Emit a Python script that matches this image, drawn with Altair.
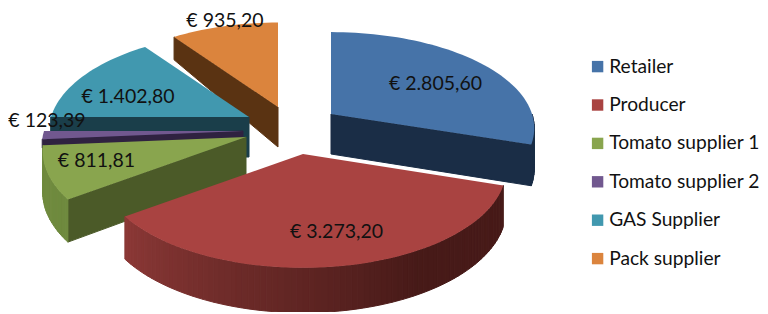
import math
import altair as alt

names = ["Retailer", "Producer", "Tomato supplier 1", "Tomato supplier 2", "GAS Supplier", "Pack supplier"]
values = [2805.60, 3273.20, 811.81, 123.39, 1402.80, 935.20]
labels = ["€ 2.805,60", "€ 3.273,20", "€ 811,81", "€ 123,39", "€ 1.402,80", "€ 935,20"]
top_colors = ["#4673A8", "#A94341", "#89A54E", "#71588F", "#4198AF", "#DB843D"]
cut_colors = ["#1A2D46", "#471A18", "#4B5A28", "#2F2240", "#1A3E4A", "#5A3312"]
rim_colors = ["#1A2D46", "#8B3836", "#6F8A3E", "#5A4672", "#1A3E4A", "#5A3312"]
rim_dark = ["#1A2D46", "#471A18", "#6F8A3E", "#5A4672", "#1A3E4A", "#5A3312"]

# geometry of the exploded perspective pie, in chart pixels
apex_x = [323, 295, 238, 235, 241, 270]
apex_y = [106, 146, 129, 123, 109, 99]
radius_x = [201, 201, 201, 199, 198, 198]
radius_y = [94, 97, 97, 97, 97, 97]
K = 0.148
DEPTH = 40
depth_scale = [1, 1, 1, 0.22, 1, 1]
has_rim = [True, True, True, False, True, True]
# which cut edge of the slice faces the viewer
cut_start = [False, False, True, True, True, True]
cut_end = [True, False, False, False, False, False]
label_x = [427.5, 328.5, 88.5, 39, 120, 217]
label_y = [76, 224, 153, 113, 89, 12.5]
W, H = 752, 304

total = sum(values)
starts, acc = [], 0.0
for v in values:
    starts.append(acc / total * 360)
    acc += v


def pt(i, deg, down=False):
    a = math.radians(deg)
    s = 1 / (1 + K * math.cos(a))
    x = apex_x[i] + radius_x[i] * math.sin(a) * s
    y = apex_y[i] - radius_y[i] * math.cos(a) * s
    if down:
        y += (DEPTH + (160 if s < 1 else 28) * (s - 1)) * depth_scale[i]
    return [x, y]


def feature(ring, **props):
    ring = [[round(p[0], 2), round(p[1], 2)] for p in ring]
    ring.append(ring[0])
    return {"type": "Feature", "properties": props, "geometry": {"type": "Polygon", "coordinates": [ring]}}


def mix(c1, c2, t):
    a = [int(c1[j:j + 2], 16) for j in (1, 3, 5)]
    b = [int(c2[j:j + 2], 16) for j in (1, 3, 5)]
    return "#" + "".join(f"{round(p + (q - p) * t):02x}" for p, q in zip(a, b))


def steps(a0, a1, step=2.0):
    n = max(1, int(abs(a1 - a0) / step))
    return [a0 + (a1 - a0) * j / n for j in range(n + 1)]


walls, tops = [], []
for i in [5, 4, 3, 2, 0, 1]:
    a0, a1 = starts[i], starts[i] + values[i] / total * 360
    apex = [apex_x[i], apex_y[i]]
    apex_low = [apex_x[i], apex_y[i] + DEPTH * depth_scale[i]]
    if cut_start[i]:
        walls.append(feature([apex, pt(i, a0), pt(i, a0, True), apex_low], fill=cut_colors[i]))
    if cut_end[i]:
        walls.append(feature([apex, pt(i, a1), pt(i, a1, True), apex_low], fill=cut_colors[i]))
    lo, hi = max(a0, 90), min(a1, 270)
    if hi > lo and has_rim[i]:
        seq = steps(hi, lo, 1.5)
        for j in range(len(seq) - 1):
            t = j / max(1, len(seq) - 2)
            col = mix(rim_colors[i], rim_dark[i], min(1, t * 1.5))
            walls.append(feature([pt(i, seq[j]), pt(i, seq[j + 1]), pt(i, seq[j + 1], True), pt(i, seq[j], True)], fill=col))
    arc = [pt(i, a) for a in steps(a0, a1)]
    tops.append(feature([apex] + arc, name=names[i]))

prj = dict(type="identity", scale=1, translate=[0, 0])

wall_layer = alt.Chart(alt.Data(values=walls)).mark_geoshape(strokeWidth=1).encode(
    fill=alt.Fill("properties.fill:N", scale=None, legend=None),
    stroke=alt.Stroke("properties.fill:N", scale=None, legend=None),
).project(**prj)

top_layer = alt.Chart(alt.Data(values=tops)).mark_geoshape(strokeWidth=0).encode(
    color=alt.Color(
        "properties.name:N",
        scale=alt.Scale(domain=names, range=top_colors),
        legend=alt.Legend(
            title=None, orient="none", legendX=580, legendY=49, symbolType="square", symbolSize=130,
            labelFont="Lato", labelFontSize=19.2, labelColor="#111111", rowPadding=18.4, labelOffset=2,
            labelLimit=220, symbolStrokeWidth=0,
        ),
    ),
).project(**prj)

text_layer = alt.Chart(alt.Data(values=[
    {"t": l, "x": x, "y": y} for l, x, y in zip(labels, label_x, label_y)
])).mark_text(font="Lato", fontSize=19.5, color="#111111").encode(
    longitude="x:Q", latitude="y:Q", text="t:N"
).project(**prj)

chart = alt.layer(wall_layer, top_layer, text_layer).properties(
    width=W, height=H, autosize=alt.AutoSizeParams(type="none"), padding=0
).configure_view(stroke=None).configure(background="white")

chart.save("out.html", embed_options={"renderer": "svg", "actions": False})
